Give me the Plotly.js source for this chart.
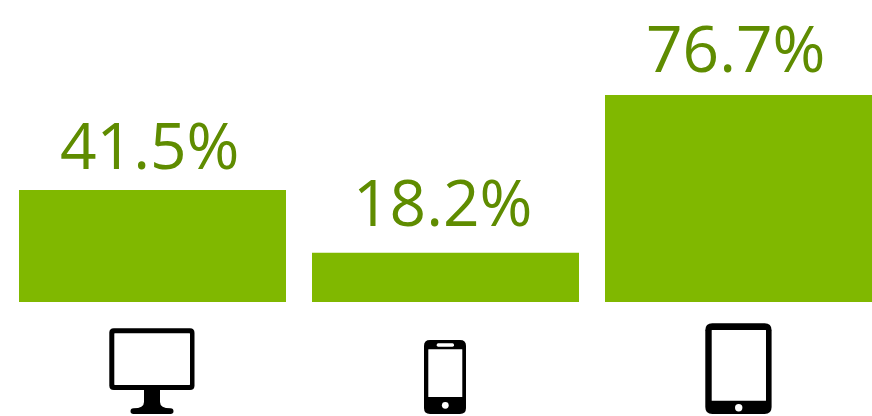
<!DOCTYPE html>
<html>
<head>
<meta charset="utf-8">
<script src="https://cdn.plot.ly/plotly-3.0.1.min.js"></script>
<style>html,body{margin:0;padding:0;background:#fff;overflow:hidden}#c{width:872px;height:416px}</style>
</head>
<body>
<div id="c"></div>
<script>
const categories = ["Desktop", "Smartphone", "Tablet"];
const values = [41.5, 18.2, 76.7];
const labels = ["41.5%", "18.2%", "76.7%"];

const W = 872, H = 416;
const fx = v => +(v / W).toFixed(5), fy = v => +(1 - v / H).toFixed(5);
// Decorative device icons: page-pixel path commands converted to paper coordinates
function path(cmds) {
  return cmds.map(c => {
    const out = [c[0]];
    for (let i = 1; i < c.length; i += 2) out.push(fx(c[i]) + "," + fy(c[i + 1]));
    return out.join(" ");
  }).join(" ");
}
function rr(x0, y0, x1, y1, r) {
  return [["M", x0 + r, y0], ["L", x1 - r, y0], ["Q", x1, y0, x1, y0 + r], ["L", x1, y1 - r],
          ["Q", x1, y1, x1 - r, y1], ["L", x0 + r, y1], ["Q", x0, y1, x0, y1 - r], ["L", x0, y0 + r],
          ["Q", x0, y0, x0 + r, y0], ["Z"]];
}
function shape(cmds, color) {
  return {type: "path", xref: "paper", yref: "paper", path: path(cmds),
          fillcolor: color, line: {width: 0}, layer: "above"};
}
function circle(cx, cy, r) { return rr(cx - r, cy - r, cx + r, cy + r, r); }

const shapes = [
  // monitor
  shape(rr(109.3, 328.3, 194.5, 390, 4.5), "#000"),
  shape(rr(114.3, 333.3, 190, 385, 0.5), "#fff"),
  shape([["M", 144, 389], ["L", 160, 389], ["L", 160, 402], ["Q", 160, 408.3, 170.5, 408.3],
         ["Q", 173.5, 408.3, 173.5, 411.2], ["Q", 173.5, 414, 170.5, 414], ["L", 133.5, 414],
         ["Q", 130.5, 414, 130.5, 411.2], ["Q", 130.5, 408.3, 133.5, 408.3],
         ["Q", 144, 408.3, 144, 402], ["Z"]], "#000"),
  // phone
  shape(rr(424, 340, 466, 414, 6), "#000"),
  shape(rr(428.3, 349.3, 462.3, 397, 0.3), "#fff"),
  shape(rr(436.7, 343.3, 454, 346.7, 1.5), "#fff"),
  shape(circle(445.3, 405.3, 3.4), "#fff"),
  // tablet
  shape(rr(705.3, 323.3, 771.6, 414, 7), "#000"),
  shape(rr(711.7, 330, 766, 400.7, 0.3), "#fff"),
  shape(circle(738.7, 407.7, 3.7), "#fff")
];

const trace = {
  type: "bar",
  x: categories,
  y: values,
  cliponaxis: false,
  marker: {color: "#80b800", line: {width: 0}},
  hoverinfo: "x+y"
};

const labelLift = [0, 5.5, 2];
const annotations = categories.map((c, i) => ({
  x: c, y: values[i], xref: "x", yref: "y", text: labels[i], showarrow: false,
  xanchor: "center", yanchor: "bottom", xshift: -3, yshift: labelLift[i],
  font: {family: "'Open Sans', sans-serif", size: 64, color: "#5f8c00"}
}));

const pxPerUnit = 2.7, baseline = 302, pitch = 293, first = 152.5;
const layout = {
  width: W, height: H,
  margin: {l: 0, r: 0, t: 0, b: 0, pad: 0},
  paper_bgcolor: "#fff", plot_bgcolor: "#fff",
  bargap: 1 - 267 / 293,
  showlegend: false,
  xaxis: {type: "category", categoryorder: "array", categoryarray: categories,
          range: [-first / pitch, (W - first) / pitch], visible: false, fixedrange: true},
  yaxis: {range: [-(H - baseline) / pxPerUnit, baseline / pxPerUnit], visible: false, fixedrange: true},
  shapes: shapes,
  annotations: annotations
};
Plotly.newPlot("c", [trace], layout, {displayModeBar: false, staticPlot: true});
</script>
</body>
</html>
